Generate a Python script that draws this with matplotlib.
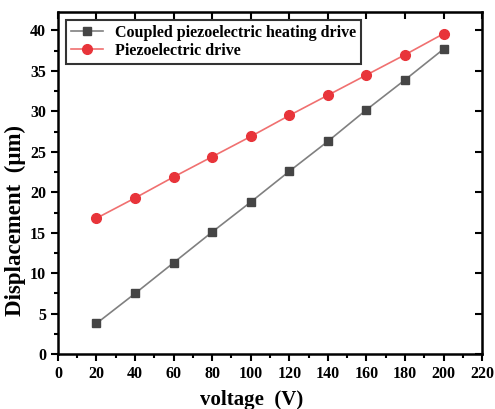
import numpy as np
import matplotlib.pyplot as plt
from matplotlib.ticker import MultipleLocator

voltage = [20, 40, 60, 80, 100, 120, 140, 160, 180, 200]
coupled = [3.8, 7.5, 11.3, 15.1, 18.8, 22.6, 26.3, 30.2, 33.9, 37.7]
piezo = [16.8, 19.3, 21.9, 24.4, 26.9, 29.5, 32.0, 34.5, 37.0, 39.6]

plt.rcParams['font.family'] = ['Liberation Serif', 'DejaVu Serif']
plt.rcParams['font.weight'] = 'bold'

fig = plt.figure(figsize=(4.95, 4.09), dpi=100)
ax = fig.add_axes([0.117, 0.134, 0.857, 0.837])

ax.plot(voltage, coupled, color='#808080', lw=1.2, marker='s', ms=6,
        mfc='#454545', mec='#454545', label='Coupled piezoelectric heating drive')
ax.plot(voltage, piezo, color='#f07070', lw=1.2, marker='o', ms=7,
        mfc='#e8343a', mec='#e8343a', label='Piezoelectric drive')

ax.set_xlim(0, 220)
ax.set_ylim(0, 42.3)
ax.xaxis.set_major_locator(MultipleLocator(20))
ax.xaxis.set_minor_locator(MultipleLocator(10))
ax.yaxis.set_major_locator(MultipleLocator(5))
ax.yaxis.set_minor_locator(MultipleLocator(2.5))
ax.tick_params(which='both', direction='out', width=1.5, labelsize=11.5)
ax.tick_params(which='major', length=5)
ax.tick_params(which='minor', length=3)
for lab in ax.get_xticklabels() + ax.get_yticklabels():
    lab.set_fontweight('bold')
for s in ax.spines.values():
    s.set_linewidth(1.8)

# mirrored inward ticks on top and right
top = ax.secondary_xaxis('top')
top.set_xticks(np.arange(0, 221, 20))
top.tick_params(direction='in', length=5, width=1.5, labeltop=False)
right = ax.secondary_yaxis('right')
right.set_yticks(np.arange(0, 41, 5))
right.tick_params(direction='in', length=5, width=1.5, labelright=False)

ax.set_xlabel('voltage  (V)', fontsize=15, fontweight='bold')
ax.set_ylabel('Displacement  (μm)', fontsize=16.5, fontweight='bold')
ax.xaxis.set_label_coords(0.457, -0.105)
ax.yaxis.set_label_coords(-0.075, 0.39)

leg = ax.legend(loc='upper left', fontsize=11.5, frameon=True, fancybox=False,
                edgecolor='black', borderaxespad=0.5, handlelength=2.0,
                borderpad=0.3, labelspacing=0.15)
leg.get_frame().set_linewidth(1.5)
for t in leg.get_texts():
    t.set_fontweight('bold')

fig.savefig('out.png', dpi=100)
